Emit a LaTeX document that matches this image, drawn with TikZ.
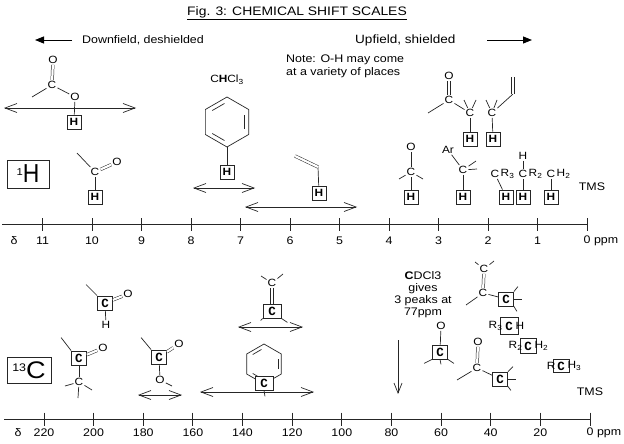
\documentclass[tikz,border=0pt]{standalone}
\usepackage{fontspec}
\setmainfont[FakeStretch=1.13]{Liberation Sans}
\setmonofont{Liberation Mono}
\usetikzlibrary{arrows.meta,calc}
\newcommand{\mybenz}[4]{%
 \coordinate (#1c) at (#2,#3);
 \foreach \k/\a in {1/90,2/30,3/-30,4/-90,5/-150,6/150}{\coordinate (#1v\k) at ($(#1c)+(\a:#4)$);}
 \draw[ln] (#1v1) -- (#1v2) -- (#1v3) -- (#1v4) -- (#1v5) -- (#1v6) -- cycle;
 \foreach \u/\w in {4/5,2/3,1/6}{\draw[ln,shorten <=3pt,shorten >=3pt] ($(#1c)!0.8!(#1v\u)$) -- ($(#1c)!0.8!(#1v\w)$);}
}
\begin{document}
\begin{tikzpicture}[x=1pt,y=-1pt,
 ln/.style={line width=0.7pt, draw=black!85},
 atom/.style={inner sep=1pt, font=\fontsize{10.5}{11}\selectfont},
 hbox/.style={draw=black!85, line width=0.8pt, minimum width=14pt, minimum height=14pt, inner sep=0pt, font=\fontsize{10.5}{10.5}\selectfont\bfseries},
 cbox/.style={draw=black!85, fill=white, line width=0.8pt, minimum width=15pt, minimum height=14pt, inner sep=0pt, font=\fontsize{12.5}{12.5}\selectfont\ttfamily\bfseries},
 dbl/.style={draw=black!85, double, double distance=2.2pt, line width=0.5pt},
 barb/.style={ln, {Straight Barb[length=12pt,width=9pt]}-{Straight Barb[length=12pt,width=9pt]}},
 sbarb/.style={ln, -{Straight Barb[length=10pt,width=8pt]}},
 fa/.style={line width=0.9pt, -{Triangle[length=9pt,width=7pt]}},
 lbl/.style={font=\fontsize{11}{13}\selectfont, inner sep=0pt},
]
\useasboundingbox (0,0) rectangle (624,444);
\fill[white] (0,0) rectangle (624,444);

% ---------- header ----------
\node[lbl,font=\fontsize{12.3}{14}\selectfont] (title) at (297,13) {\underline{Fig. 3: CHEMICAL SHIFT SCALES}};
\node[lbl,anchor=west] (down) at (82,40) {Downfield, deshielded};
\coordinate (dwa) at (72,40); \coordinate (dwb) at (35,40);
\draw[fa] (dwa) -- (dwb);
\node[lbl,anchor=west,font=\fontsize{12}{13}\selectfont] (up) at (355,40) {Upfield, shielded};
\coordinate (upa) at (487,40); \coordinate (upb) at (532,40);
\draw[fa] (upa) -- (upb);
\node[lbl,anchor=north west,align=left] (note) at (286,55) {Note: O-H may come\\at a variety of places};
\node[lbl,font=\fontsize{10.5}{12}\selectfont] (chcl) at (227,80) {C\textbf{H}Cl\textsubscript{3}};

% ---------- 1H structures ----------
\node[draw=black!85,line width=0.8pt,minimum width=42pt,minimum height=28pt,inner sep=0pt] (nuc1) at (28,174)
 {\raisebox{7pt}{\fontsize{10}{10}\selectfont 1}\scalebox{0.78}[1]{\fontsize{26}{26}\selectfont H}};

% ester O-H
\node[atom] (o1) at (53,60) {O};
\node[atom] (c1) at (52,85) {C};
\node[atom] (o2) at (75,97) {O};
\node[hbox] (h1) at (74,122) {H};
\draw[dbl] (c1) -- (o1);
\draw[ln] (c1) -- ++(-20,12);
\draw[ln] (c1) -- (o2);
\draw[ln] (o2) -- (h1);
\coordinate (a1l) at (4,108); \coordinate (a1r) at (136,108);
\draw[barb] (a1l) -- (a1r);

% aldehyde
\node[atom] (c2) at (95,172) {C};
\node[atom] (o3) at (117,162) {O};
\node[hbox] (h2) at (95,197) {H};
\draw[ln] (c2) -- ++(-18,-19);
\draw[dbl] (c2) -- (o3);
\draw[ln] (c2) -- (h2);

% benzene
\mybenz{bz1}{227}{122}{25}
\node[hbox] (h3) at (227,172) {H};
\draw[ln] (bz1v1) -- (h3);
\coordinate (a2l) at (193,188); \coordinate (a2r) at (255,188);
\draw[barb] (a2l) -- (a2r);

% vinyl
\coordinate (vv) at (318,167);
\node[hbox] (h4) at (319,193) {H};
\draw[ln] (vv) -- (h4);
\draw[dbl] (vv) -- ++(-23,-11);
\coordinate (a3l) at (245,207); \coordinate (a3r) at (357,207);
\draw[barb] (a3l) -- (a3r);

% alcohol alpha-H
\node[atom] (o4) at (411,147) {O};
\node[atom] (c3) at (411,172) {C};
\node[hbox] (h5) at (411,197) {H};
\draw[ln] (o4) -- (c3);
\draw[ln] (c3) -- ++(-12,7);
\draw[ln] (c3) -- ++(12,7);
\draw[ln] (c3) -- (h5);

% ketone / allylic
\node[atom] (o5) at (449,76) {O};
\node[atom] (c4) at (449,100) {C};
\node[atom] (c5) at (470,113) {C};
\node[atom] (c6) at (492,113) {C};
\coordinate (al1) at (513,94);
\node[hbox] (h6) at (470,139) {H};
\node[hbox] (h7) at (493,139) {H};
\draw[dbl] (c4) -- (o5);
\draw[ln] (c4) -- ++(-21,13);
\draw[ln] (c4) -- (c5);
\draw[ln] (c5) -- ++(-6,-13);
\draw[ln] (c5) -- ++(6,-13);
\draw[ln] (c5) -- (h6);
\draw[ln] (c6) -- ++(-6,-13);
\draw[ln] (c6) -- ++(5,-13);
\draw[ln] (c6) -- (h7);
\draw[ln] (c6) -- (al1);
\draw[dbl] (al1) -- ++(0,-17);

% benzylic
\node[atom] (ar) at (448,150) {Ar};
\node[atom] (c7) at (463,170) {C};
\node[hbox] (h8) at (463,197) {H};
\draw[ln] (ar) -- (c7);
\draw[ln] (c7) -- ++(14,-1);
\draw[ln] (c7) -- ++(13,-9);
\draw[ln] (c7) -- (h8);

% alkyl
\node[atom] (c8) at (495,174) {C};
\node[atom,anchor=west,inner sep=0pt] (r3) at (c8.east) {R\textsubscript{3}};
\node[hbox] (h9) at (506,197) {H};
\draw[ln] (c8) -- (h9);
\node[atom] (hh) at (523,156) {H};
\node[atom] (c9) at (523,174) {C};
\node[atom,anchor=west,inner sep=0pt] (r2) at (c9.east) {R\textsubscript{2}};
\node[hbox] (h10) at (523,197) {H};
\draw[ln] (hh) -- (c9);
\draw[ln] (c9) -- (h10);
\node[atom] (c10) at (551,174) {C};
\node[atom,anchor=west,inner sep=0pt] (h2s) at (c10.east) {H\textsubscript{2}};
\node[hbox] (h11) at (551,197) {H};
\draw[ln] (c10) -- (h11);
\node[lbl] (tms1) at (592,187) {TMS};

% ---------- top axis ----------
\coordinate (ax1l) at (2,224.5); \coordinate (ax1r) at (587,224.5);
\draw[ln,line width=0.9pt] (ax1l) -- (ax1r);
\foreach \p in {0,...,11}{
 \coordinate (ta\p) at ({587-49.5*\p},224.5);
 \draw[ln,line width=0.9pt] (ta\p) ++(0,-6.5) -- ++(0,13);
}
\foreach \p in {1,...,11}{ \node[lbl] (la\p) at ({587-49.5*\p},241) {\p}; }
\node[lbl,anchor=west] (la0) at (583.5,241) {0 ppm};
\node[lbl] (dl1) at (14,241) {δ};

% ---------- 13C structures ----------
\node[draw=black!85,line width=0.8pt,minimum width=44pt,minimum height=26pt,inner sep=0pt] (nuc2) at (29,370)
 {\raisebox{7pt}{\fontsize{11}{11}\selectfont 13}{\fontsize{24}{24}\selectfont C}};

% aldehyde C
\node[cbox] (cb1) at (105,303) {C};
\node[atom] (o6) at (128,294) {O};
\node[atom] (hb) at (106,325) {H};
\draw[ln] (cb1.north west) -- ++(-11,-11);
\draw[dbl] (cb1) -- (o6);
\draw[ln] (cb1) -- (hb);

% ketone C
\node[cbox] (cb2) at (79,358) {C};
\node[atom] (o7) at (103,348) {O};
\node[atom] (c11) at (79,382) {C};
\draw[ln] (cb2.north west) -- ++(-10,-13);
\draw[dbl] (cb2) -- (o7);
\draw[ln] (cb2) -- (c11);
\draw[ln] (c11) -- ++(-14,4);
\draw[ln] (c11) -- ++(13,8);
\draw[ln] (c11) -- ++(-1,16);

% ester C
\node[cbox] (cb3) at (159,357) {C};
\node[atom] (o8) at (179,344) {O};
\node[atom] (o9) at (160,380) {O};
\draw[ln] (cb3.north west) -- ++(-10,-12);
\draw[dbl] (cb3) -- (o8);
\draw[ln] (cb3) -- (o9);
\draw[ln] (o9) -- ++(12,6);
\coordinate (b1l) at (138,395); \coordinate (b1r) at (182,395);
\draw[barb] (b1l) -- (b1r);

% alkene C
\node[atom] (c12) at (272,283) {C};
\node[cbox,minimum width=18pt] (cb4) at (272,311) {C};
\draw[ln] (c12) -- ++(-11,-7);
\draw[ln] (c12) -- ++(11,-9);
\draw[dbl] (c12) -- (cb4);
\draw[ln] (cb4.south west) -- ++(-2,2);
\draw[ln] (cb4.south east) -- ++(6,4);
\coordinate (b2l) at (238,327); \coordinate (b2r) at (303,327);
\draw[barb] (b2l) -- (b2r);

% aromatic C
\mybenz{bz2}{264}{364}{20}
\node[cbox,minimum width=18pt] (cb5) at (264,383) {C};
\draw[ln] (cb5.south) -- ++(1,6);
\coordinate (b3l) at (200,392); \coordinate (b3r) at (314,392);
\draw[barb] (b3l) -- (b3r);

% CDCl3 note
\node[lbl,align=center,font=\fontsize{11}{12}\selectfont] (cdcl) at (423,295) {\textbf{C}DCl3\\gives\\3 peaks at\\77ppm};
\coordinate (da1) at (398,340); \coordinate (da2) at (398,394);
\draw[sbarb] (da1) -- (da2);

% alcohol C
\node[atom] (o10) at (441,326) {O};
\node[cbox] (cb6) at (440,352) {C};
\draw[ln] (o10) -- (cb6);
\draw[ln] (cb6.south west) -- ++(-8,4);
\draw[ln] (cb6.south east) -- ++(6,4);
\draw[ln] (cb6.south) -- ++(1,5);

% ketone alpha C
\node[atom] (o11) at (478,342) {O};
\node[atom] (c13) at (477,368) {C};
\node[cbox] (cb7) at (500,379) {C};
\draw[dbl] (c13) -- (o11);
\draw[ln] (c13) -- ++(-20,12);
\draw[ln] (c13) -- (cb7);
\draw[ln] (cb7.north east) -- ++(5,-5);
\draw[ln] (cb7.east) -- ++(8,0);
\draw[ln] (cb7.south east) -- ++(3,4);

% alkene alpha C
\node[atom] (c14) at (484,269) {C};
\node[atom] (c15) at (483,293) {C};
\node[cbox] (cb8) at (506,299) {C};
\draw[ln] (c14) -- ++(-9,-7);
\draw[ln] (c14) -- ++(10,-8);
\draw[dbl] (c14) -- (c15);
\draw[ln] (c15) -- ++(-17,12);
\draw[ln] (c15) -- (cb8);
\draw[ln] (cb8.north east) -- ++(4,-5);
\draw[ln] (cb8.east) -- ++(8,0);
\draw[ln] (cb8.south east) -- ++(3,5);

% alkyl C
\node[cbox,minimum width=18pt,minimum height=17pt] (cb9) at (509,326) {C};
\node[atom,anchor=east,inner sep=0pt] (r3b) at ([xshift=3pt]cb9.west) {R\textsubscript{3}};
\node[atom,anchor=west,inner sep=0pt] (hb9) at ([xshift=-3pt]cb9.east) {H};
\node[cbox,minimum width=16pt,minimum height=15pt] (cb10) at (528,346) {C};
\node[atom,anchor=east,inner sep=0pt] (r2b) at ([xshift=3pt]cb10.west) {R\textsubscript{2}};
\node[atom,anchor=west,inner sep=0pt] (hb10) at ([xshift=-2pt]cb10.east) {H\textsubscript{2}};
\node[cbox,minimum width=16pt,minimum height=13pt] (cb11) at (561,366) {C};
\node[atom,anchor=east,inner sep=0pt] (rb) at ([xshift=3pt]cb11.west) {R};
\node[atom,anchor=west,inner sep=0pt] (hb11) at ([xshift=-2pt]cb11.east) {H\textsubscript{3}};
\node[lbl] (tms2) at (590,392) {TMS};

% ---------- bottom axis ----------
\coordinate (ax2l) at (4,419); \coordinate (ax2r) at (590,419);
\draw[ln,line width=0.9pt] (ax2l) -- (ax2r);
\foreach \p in {0,20,...,220}{
 \coordinate (tb\p) at ({590-2.482*\p},419);
 \draw[ln,line width=0.9pt] (tb\p) ++(0,-6.5) -- ++(0,13);
}
\foreach \p in {20,40,...,220}{ \node[lbl] (lb\p) at ({590-2.482*\p},433) {\p}; }
\node[lbl,anchor=west] (lb0) at (586.5,433) {0 ppm};
\node[lbl] (dl2) at (18,433) {δ};
\end{tikzpicture}
\end{document}
